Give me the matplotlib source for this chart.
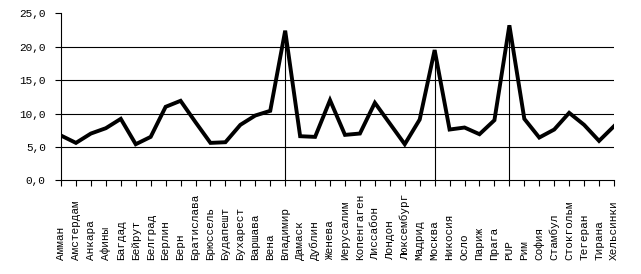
import matplotlib
matplotlib.use("Agg")
import matplotlib.pyplot as plt

cities = ["Амман", "Амстердам", "Анкара", "Афины", "Багдад", "Бейрут", "Белград",
          "Берлин", "Берн", "Братислава", "Брюссель", "Будапешт", "Бухарест",
          "Варшава", "Вена", "Владимир", "Дамаск", "Дублин", "Женева", "Иерусалим",
          "Копенгаген", "Лиссабон", "Лондон", "Люксембург", "Мадрид", "Москва",
          "Никосия", "Осло", "Париж", "Прага", "PUP", "Рим", "София", "Стамбул",
          "Стокгольм", "Тегеран", "Тирана", "Хельсинки"]
values = [6.7, 5.6, 7.0, 7.8, 9.2, 5.4, 6.5, 11.0, 11.9, 8.7, 5.6, 5.7, 8.3,
          9.7, 10.4, 22.4, 6.6, 6.5, 12.0, 6.8, 7.0, 11.6, 8.5, 5.4, 9.1, 19.5,
          7.6, 7.9, 6.9, 9.0, 23.2, 9.2, 6.4, 7.6, 10.1, 8.3, 5.9, 8.1]
highlight = ["Владимир", "Москва", "PUP"]
yticks = [0, 5, 10, 15, 20, 25]
ytick_labels = ["0,0", "5,0", "10,0", "15,0", "20,0", "25,0"]

plt.rcParams['font.family'] = ['Liberation Mono', 'DejaVu Sans Mono']

fig = plt.figure(figsize=(6.41, 2.74), dpi=100)
ax = fig.add_axes([61/641, 1-180.3/274, (614-61)/641, (180.3-13.3)/274])

x = list(range(len(cities)))
for g in yticks[1:-1]:
    ax.axhline(g, color='black', lw=0.8, zorder=1)
for name in highlight:
    i = cities.index(name)
    ax.plot([i, i], [0, values[i]], color='black', lw=0.8, zorder=1)
ax.plot(x, values, color='black', lw=2.8, solid_joinstyle='miter', zorder=3)

ax.set_xlim(0, len(cities) - 1)
ax.set_ylim(0, 25)
ax.set_yticks(yticks)
ax.set_yticklabels(ytick_labels, fontsize=8)
ax.set_xticks(x)
ax.set_xticklabels([])
ax.tick_params(axis='both', direction='out', length=4, width=0.8, color='black')
ax.tick_params(axis='y', pad=7)
for s in ['top', 'right']:
    ax.spines[s].set_visible(False)
for s in ['left', 'bottom']:
    ax.spines[s].set_linewidth(0.8)

trans = ax.get_xaxis_transform()
for i, c in enumerate(cities):
    ax.text(i, -80/167, c, rotation=90, ha='center', va='bottom', fontsize=8,
            transform=trans)

fig.savefig("out.png", dpi=100, facecolor='white')
